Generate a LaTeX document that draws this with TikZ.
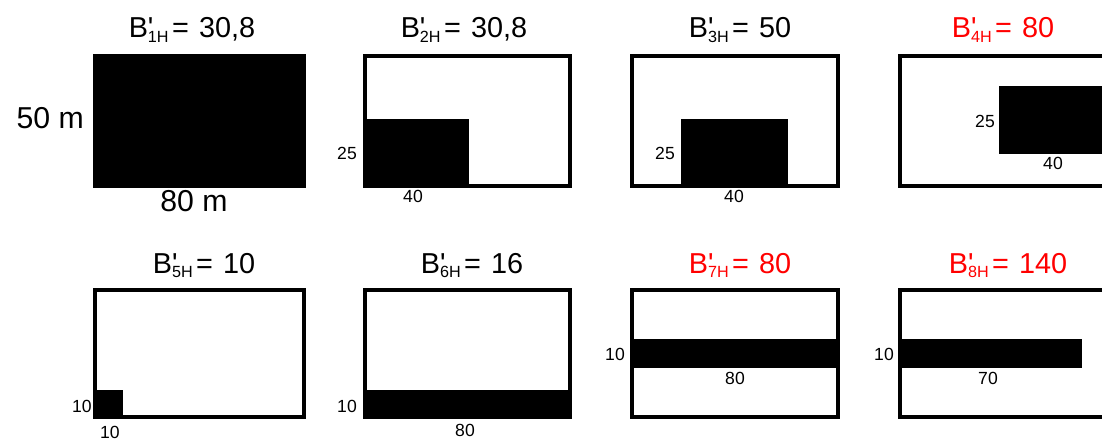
\documentclass[tikz,border=0pt]{standalone}
\usepackage{fontspec}
\newfontfamily\arialfont{Liberation Sans}
\usetikzlibrary{positioning}

% title text: B' with subscript index
\newcommand{\bname}[2]{B\rlap{'}\raisebox{-2.9pt}{\fontsize{11.5}{11.5}\selectfont #1H}\hspace{2.5pt}=\hspace{1.5pt} #2}

\begin{document}
\begin{tikzpicture}[x=0.025cm,y=-0.025cm,
	frame/.style={draw,line width=3.3pt},
	area/.style={fill=black},
	title/.style={font=\arialfont\fontsize{20.5}{20.5}\selectfont,inner sep=0pt,anchor=base},
	hot/.style={title,text=red},
	big/.style={font=\arialfont\fontsize{21.5}{21.5}\selectfont,inner sep=0pt},
	dim/.style={font=\arialfont\fontsize{12.5}{12.5}\selectfont,inner sep=0pt}]
	
	\clip (0,0) rectangle (1102,440);
	
	% first row
	\fill[area] (95,56) rectangle (304,186);
	\draw[frame] (95,56) rectangle (304,186);
	
	\fill[area] (365,119) rectangle (469,186);
	\draw[frame] (365,56) rectangle (570,186);
	
	\fill[area] (681,119) rectangle (788,186);
	\draw[frame] (632,56) rectangle (838,186);
	
	\fill[area] (999,86) rectangle (1106,154);
	\draw[frame] (900,56) rectangle (1106,186);
	
	% second row
	\fill[area] (95,390) rectangle (123,417);
	\draw[frame] (95,290) rectangle (304,417);
	
	\fill[area] (365,390) rectangle (570,417);
	\draw[frame] (365,290) rectangle (570,417);
	
	\fill[area] (632,339) rectangle (838,368);
	\draw[frame] (632,290) rectangle (838,417);
	
	\fill[area] (900,339) rectangle (1082,368);
	\draw[frame] (900,290) rectangle (1106,417);
	
	% titles
	\node[title] (t1) at (192,38) {\bname{1}{30,8}};
	\node[title] (t2) at (464,38) {\bname{2}{30,8}};
	\node[title] (t3) at (740,38) {\bname{3}{50}};
	\node[hot]   (t4) at (1003,38) {\bname{4}{80}};
	\node[title] (t5) at (204,273) {\bname{5}{10}};
	\node[title] (t6) at (472,273) {\bname{6}{16}};
	\node[hot]   (t7) at (740,273) {\bname{7}{80}};
	\node[hot]   (t8) at (1008,273) {\bname{8}{140}};
	
	% sizes
	\node[big,anchor=east] (h1) at (84,118) {50 m};
	\node[big] (w1) at (194,201) {80 m};
	
	\node[dim] (h2) at (347,153) {25};
	\node[dim] (w2) at (413,196) {40};
	\node[dim] (h3) at (665,153) {25};
	\node[dim] (w3) at (734,196) {40};
	\node[dim] (h4) at (985,121) {25};
	\node[dim] (w4) at (1053,163) {40};
	\node[dim] (h5) at (82,406) {10};
	\node[dim] (w5) at (110,432) {10};
	\node[dim] (h6) at (347,406) {10};
	\node[dim] (w6) at (465,430) {80};
	\node[dim] (h7) at (615,354) {10};
	\node[dim] (w7) at (735,378) {80};
	\node[dim] (h8) at (884,354) {10};
	\node[dim] (w8) at (988,378) {70};
\end{tikzpicture}
\end{document}
